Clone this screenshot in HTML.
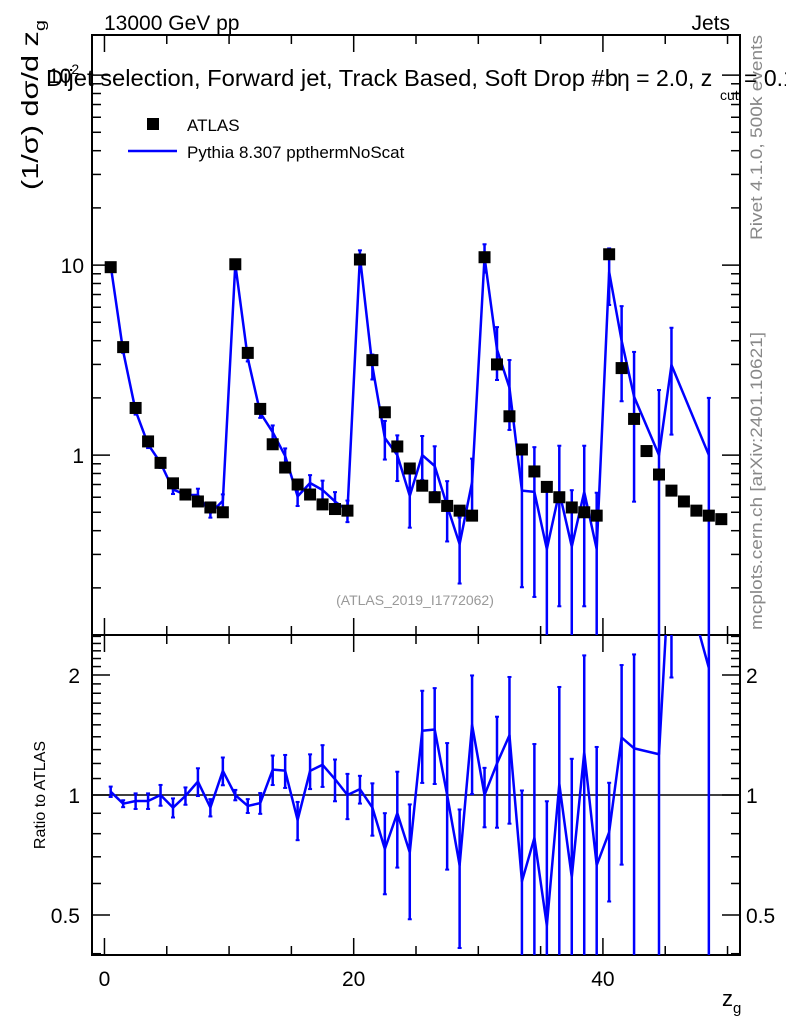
<!DOCTYPE html>
<html><head><meta charset="utf-8"><style>
html,body{margin:0;padding:0;background:#fff;overflow:hidden;width:786px;height:1024px;}
svg{display:block;font-family:"Liberation Sans",sans-serif;}
</style></head><body>
<svg id="chart" width="786" height="1024" viewBox="0 0 786 1024">
<defs>
<clipPath id="clipMain"><rect x="92" y="35" width="648" height="600"/></clipPath>
<clipPath id="clipRatio"><rect x="92" y="635" width="648" height="320"/></clipPath>
</defs>
<text x="104" y="30" font-size="21">13000 GeV pp</text>
<text x="730" y="30" font-size="21" text-anchor="end">Jets</text>
<text x="46" y="86" font-size="23" textLength="572" lengthAdjust="spacingAndGlyphs">Dijet selection, Forward jet, Track Based, Soft Drop #b</text>
<text x="617" y="86" font-size="23">η = 2.0, z</text>
<text x="720" y="100" font-size="14">cut</text>
<text x="744" y="86" font-size="23">= 0.1</text>
<text transform="translate(38,190) rotate(-90)" font-size="23" textLength="170" lengthAdjust="spacingAndGlyphs">(1/σ) dσ/d z<tspan font-size="15" dy="7">g</tspan></text>
<text transform="translate(762,240) rotate(-90)" font-size="17" fill="#888" textLength="205" lengthAdjust="spacingAndGlyphs">Rivet 4.1.0,  500k events</text>
<text transform="translate(762,630) rotate(-90)" font-size="17" fill="#888" textLength="298" lengthAdjust="spacingAndGlyphs">mcplots.cern.ch [arXiv:2401.10621]</text>
<text x="415" y="605" font-size="14" fill="#999" text-anchor="middle">(ATLAS_2019_I1772062)</text>
<text transform="translate(45,795) rotate(-90)" font-size="16" text-anchor="middle">Ratio to ATLAS</text>
<text x="722" y="1006" font-size="22">z<tspan font-size="15" dy="7">g</tspan></text>
<g id="legend">
<rect x="147" y="118" width="12" height="12" fill="#000"/>
<text x="187" y="131" font-size="17">ATLAS</text>
<line x1="128" y1="151" x2="177" y2="151" stroke="#0000ff" stroke-width="2.5"/>
<text x="187" y="158" font-size="17">Pythia 8.307 ppthermNoScat</text>
</g>
<g id="axes"></g>
<g id="marks"></g>
</svg>
<script>
const binCenters = [0.5,1.5,2.5,3.5,4.5,5.5,6.5,7.5,8.5,9.5,10.5,11.5,12.5,13.5,14.5,15.5,16.5,17.5,18.5,19.5,20.5,21.5,22.5,23.5,24.5,25.5,26.5,27.5,28.5,29.5,30.5,31.5,32.5,33.5,34.5,35.5,36.5,37.5,38.5,39.5,40.5,41.5,42.5,43.5,44.5,45.5,46.5,47.5,48.5,49.5];
const atlasValues = [9.75,3.7,1.77,1.18,0.91,0.71,0.62,0.57,0.53,0.50,10.1,3.45,1.75,1.14,0.86,0.70,0.62,0.55,0.52,0.51,10.7,3.16,1.68,1.11,0.85,0.69,0.60,0.54,0.51,0.48,11.0,3.0,1.6,1.07,0.82,0.68,0.60,0.53,0.50,0.48,11.4,2.87,1.55,1.05,0.79,0.65,0.57,0.51,0.48,0.46];
const pythiaValues = [9.94,3.52,1.71,1.14,0.91,0.66,0.617,0.616,0.493,0.575,10.1,3.24,1.67,1.32,0.99,0.606,0.713,0.655,0.57,0.51,11.07,2.94,1.23,1.0,0.61,1.0,0.876,0.54,0.34,0.72,11.0,3.6,2.26,0.65,0.64,0.32,0.64,0.33,0.64,0.32,9.2,4.0,2.03,null,1.0,2.98,null,null,1.0,null];
const pythiaRelErr = [0.03,0.02,0.045,0.045,0.06,0.055,0.05,0.08,0.05,0.08,0.03,0.04,0.06,0.085,0.095,0.11,0.1,0.12,0.12,0.13,0.08,0.15,0.23,0.27,0.32,0.26,0.27,0.35,0.38,0.33,0.17,0.31,0.4,0.69,0.72,1.05,0.75,0.98,0.75,0.98,0.33,0.52,0.72,null,1.2,0.57,null,null,1.0,null];
const xTicksMajor = [0,20,40];
const xTickLabels = ["0","20","40"];
const mainYTicks = [1,10,100];
const ratioTicks = [0.5,1,2];
const ratioTickLabels = ["0.5","1","2"];

const NS="http://www.w3.org/2000/svg";
const X0=-1, X1=51, PL=92, PR=740;
const MT=35, MB=635, RT=635, RB=955;
const mainLogMin=-0.947, mainLogMax=2.211;
const ratioLogMin=Math.log10(0.397), ratioLogMax=Math.log10(2.52);
function xs(v){return PL+(v-X0)/(X1-X0)*(PR-PL);}
function ym(v){return MB-(Math.log10(v)-mainLogMin)/(mainLogMax-mainLogMin)*(MB-MT);}
function yr(v){return RB-(Math.log10(v)-ratioLogMin)/(ratioLogMax-ratioLogMin)*(RB-RT);}
function mk(tag,attrs,parent){const e=document.createElementNS(NS,tag);for(const k in attrs)e.setAttribute(k,attrs[k]);parent.appendChild(e);return e;}
const axes=document.getElementById('axes');
const marks=document.getElementById('marks');

let f1=mk('rect',{x:PL,y:MT,width:PR-PL,height:MB-MT,fill:'none',stroke:'#000','stroke-width':2},axes);


let f2=mk('rect',{x:PL,y:RT,width:PR-PL,height:RB-RT,fill:'none',stroke:'#000','stroke-width':2},axes);



for(let v=0;v<=50;v+=5){
  const major=xTicksMajor.indexOf(v)>=0;
  const L=major?17:9;
  const x=xs(v);
  [[MT,1],[MB,-1],[RT,1],[RB,-1]].forEach(p=>{
    const t=mk('line',{x1:x,x2:x,y1:p[0],y2:p[0]+p[1]*L,stroke:'#000','stroke-width':1.5},axes);
    
    
  });
}
xTicksMajor.forEach((v,i)=>{
  const t=mk('text',{x:xs(v),y:986,'font-size':21,'text-anchor':'middle'},axes);
  t.textContent=xTickLabels[i];
  
  
});

for(let d=-1;d<=2;d++){
  for(let m=1;m<=9;m++){
    const v=m*Math.pow(10,d);
    const y=ym(v);
    if(y<MT||y>MB)continue;
    const L=m===1?18:9;
    [[PL,1],[PR,-1]].forEach(p=>{
      const t=mk('line',{x1:p[0],x2:p[0]+p[1]*L,y1:y,y2:y,stroke:'#000','stroke-width':1.5},axes);
      
      
    });
  }
}
let lab=mk('text',{x:84,y:ym(10)+8,'font-size':21,'text-anchor':'end'},axes);
lab.textContent='10';


lab=mk('text',{x:84,y:ym(1)+8,'font-size':21,'text-anchor':'end'},axes);
lab.textContent='1';


lab=mk('text',{x:48,y:ym(100)+8,'font-size':21},axes);
lab.innerHTML='10<tspan font-size="14" dy="-9">2</tspan>';



const rMinor=[];
for(let v=0.4;v<2.55;v+=0.1)rMinor.push(Math.round(v*10)/10);
rMinor.forEach(v=>{
  const y=yr(v); if(y<RT||y>RB)return;
  const major=ratioTicks.indexOf(v)>=0;
  const L=major?18:9;
  [[PL,1],[PR,-1]].forEach(p=>{
    const t=mk('line',{x1:p[0],x2:p[0]+p[1]*L,y1:y,y2:y,stroke:'#000','stroke-width':1.5},axes);
    
    
  });
});
ratioTicks.forEach((v,i)=>{
  let t=mk('text',{x:80,y:yr(v)+8,'font-size':21,'text-anchor':'end'},axes);
  t.textContent=ratioTickLabels[i];
  
  
  t=mk('text',{x:746,y:yr(v)+8,'font-size':21},axes);
  t.textContent=ratioTickLabels[i];
  
  
});
let one=mk('line',{x1:PL,x2:PR,y1:yr(1),y2:yr(1),stroke:'#000','stroke-width':1.5},axes);



const gMain=mk('g',{'clip-path':'url(#clipMain)'},marks);


const gRatio=mk('g',{'clip-path':'url(#clipRatio)'},marks);



let ptsM=[],ptsR=[];
binCenters.forEach((c,i)=>{
  const mc=pythiaValues[i];
  if(mc===null)return;
  const x=xs(c);
  const err=mc*pythiaRelErr[i];
  ptsM.push(x+','+ym(mc));
  const r=mc/atlasValues[i], re=err/atlasValues[i];
  ptsR.push(x+','+yr(r));
  const lo=Math.max(mc-err,1e-3), hi=mc+err;
  let e=mk('line',{x1:x,x2:x,y1:ym(lo),y2:ym(hi),stroke:'#0000ff','stroke-width':2.5},gMain);
  
  
  [lo,hi].forEach(v=>{
    const c2=mk('line',{x1:x-2,x2:x+2,y1:ym(v),y2:ym(v),stroke:'#0000ff','stroke-width':2},gMain);
    
    
  });
  const rlo=Math.max(r-re,1e-3), rhi=r+re;
  e=mk('line',{x1:x,x2:x,y1:yr(rlo),y2:yr(rhi),stroke:'#0000ff','stroke-width':2.5},gRatio);
  
  
  [rlo,rhi].forEach(v=>{
    const c2=mk('line',{x1:x-2,x2:x+2,y1:yr(v),y2:yr(v),stroke:'#0000ff','stroke-width':2},gRatio);
    
    
  });
});
let pl=mk('polyline',{points:ptsM.join(' '),fill:'none',stroke:'#0000ff','stroke-width':2.5,'stroke-linejoin':'round'},gMain);


pl=mk('polyline',{points:ptsR.join(' '),fill:'none',stroke:'#0000ff','stroke-width':2.5,'stroke-linejoin':'round'},gRatio);



binCenters.forEach((c,i)=>{
  const s=mk('rect',{x:xs(c)-6,y:ym(atlasValues[i])-6,width:12,height:12,fill:'#000'},gMain);
  
  
});
</script>
</body></html>
